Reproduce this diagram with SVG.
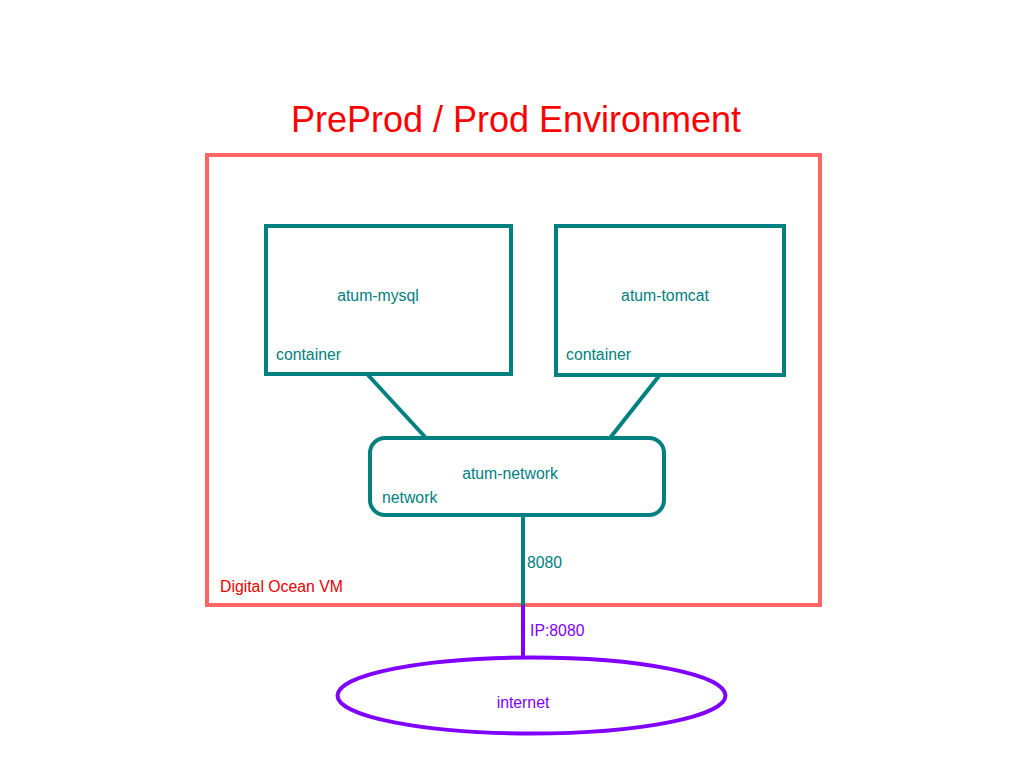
<svg xmlns="http://www.w3.org/2000/svg" width="1024" height="768" viewBox="0 0 1024 768">
<style>
text{font-family:"Liberation Sans",Arial,sans-serif;font-size:15.8px}
.teal{fill:#008080}
.box{fill:none;stroke:#008080;stroke-width:4}
.tl{stroke:#008080;stroke-width:4}
.pl{stroke:#8000ff;stroke-width:4}
</style>
<rect width="1024" height="768" fill="#fff"/>
<text x="516" y="132" text-anchor="middle" style="font-size:36px" fill="#ff0000">PreProd / Prod Environment</text>
<g id="vm">
<rect x="207" y="155" width="613" height="450" fill="none" stroke="#ff6666" stroke-width="4"/>
<text x="220" y="592" fill="#e60000">Digital Ocean VM</text>
</g>
<g id="connectors">
<line class="tl" x1="368" y1="375" x2="426" y2="438"/>
<line class="tl" x1="659" y1="376" x2="610" y2="438"/>
<line class="tl" x1="523" y1="515" x2="523" y2="605"/>
<line class="pl" x1="523" y1="605" x2="523" y2="658"/>
<text x="527" y="568" class="teal">8080</text>
<text x="530" y="636" fill="#8000ff">IP:8080</text>
</g>
<g id="atum-mysql">
<rect class="box" x="266" y="226" width="245" height="148"/>
<text x="378" y="301" text-anchor="middle" class="teal">atum-mysql</text>
<text x="276" y="360" class="teal">container</text>
</g>
<g id="atum-tomcat">
<rect class="box" x="556" y="226" width="228" height="149"/>
<text x="665" y="301" text-anchor="middle" class="teal">atum-tomcat</text>
<text x="566" y="360" class="teal">container</text>
</g>
<g id="atum-network">
<rect class="box" x="370" y="438" width="294" height="77" rx="15" ry="15"/>
<text x="510" y="479" text-anchor="middle" class="teal">atum-network</text>
<text x="382" y="503" class="teal">network</text>
</g>
<g id="internet">
<ellipse cx="531.5" cy="695.5" rx="194" ry="38" fill="none" stroke="#8000ff" stroke-width="4"/>
<text x="523" y="708" text-anchor="middle" fill="#8000ff">internet</text>
</g>
</svg>
